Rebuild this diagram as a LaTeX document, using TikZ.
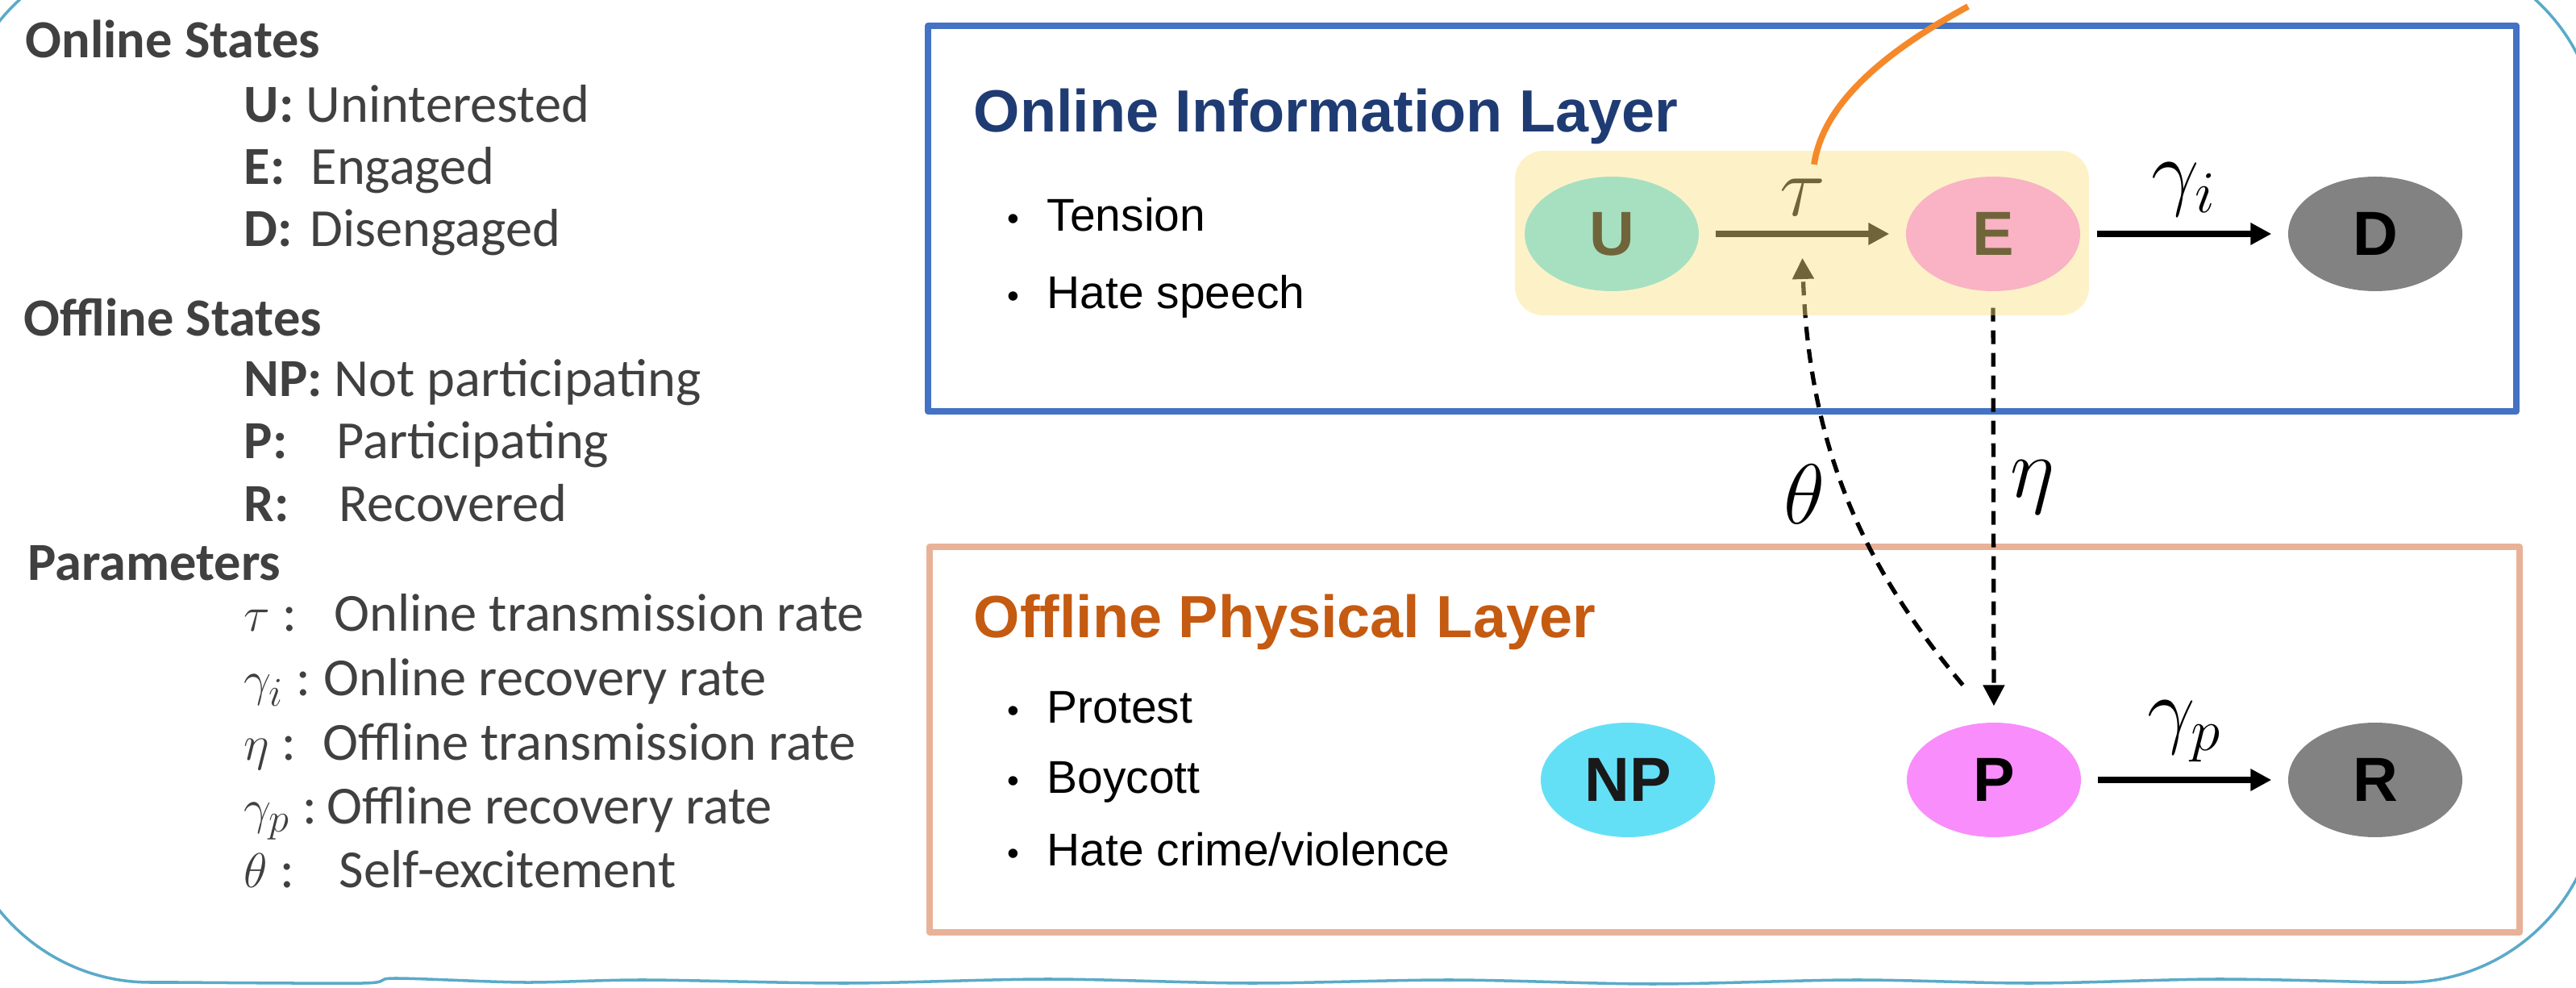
\documentclass[tikz,border=0pt]{standalone}
\usepackage{fontspec}
\newfontfamily\carlito{Carlito}
\newfontfamily\arialf{Liberation Sans}
\usetikzlibrary{shapes.geometric,arrows.meta,calc}

\definecolor{framecol}{HTML}{5AAAC8}
\definecolor{onlinecol}{HTML}{4472C4}
\definecolor{offlinecol}{HTML}{E8B298}
\definecolor{onlinetitle}{HTML}{1F3B73}
\definecolor{offlinetitle}{HTML}{C55A11}
\definecolor{legendgray}{HTML}{404040}
\definecolor{npcyan}{HTML}{64E0F6}
\definecolor{pmagenta}{HTML}{F98DFC}
\definecolor{stategray}{HTML}{828282}
\definecolor{highlight}{HTML}{FAE282}
\definecolor{calloutorange}{HTML}{F5892A}

% small bullet in front of the layer items
\newcommand{\itm}[1]{\makebox[0.49cm][l]{\raisebox{0.5pt}{\fontsize{12}{12}\selectfont\textbullet}}#1}

\begin{document}
\begin{tikzpicture}[line join=round, >={Triangle[length=2.6mm,width=2.6mm]},
	state/.style={ellipse, minimum width=2.16cm, minimum height=1.42cm, inner sep=0pt, font=\arialf\bfseries\fontsize{22}{22}\selectfont},
	rate/.style={font=\fontsize{20.74}{24}\selectfont, scale=1.45, transform shape},
	flow/.style={->, line width=2pt, shorten <=2mm, shorten >=2mm},
	couple/.style={->, line width=1.5pt, dash pattern=on 1.7mm off 1.1mm, shorten <=2mm, shorten >=2mm},
	layer/.style={line width=0.8mm},
	head/.style={anchor=base west, inner sep=0pt, font=\arialf\bfseries\fontsize{21}{25}\selectfont},
	item/.style={anchor=base west, inner sep=0pt, font=\arialf\fontsize{16.2}{20}\selectfont},
	legend/.style={anchor=base west, inner sep=0pt, text=legendgray, font=\carlito\fontsize{18.9}{22}\selectfont}]
	\useasboundingbox (0,0) rectangle (31.95,-12.25);
	\clip (0,0) rectangle (31.95,-12.25);
	
	% outer frame, slightly wavy along the bottom
	\draw[framecol, line width=1pt, rounded corners=2.4cm] (2.2,-12.18) -| (-0.54,0.63) -| (32.23,-12.18) -- (29.5,-12.18);
	\draw[framecol, line width=1pt] plot[smooth] coordinates {(29.5,-12.18) (27.5,-12.14) (25.2,-12.19) (23.0,-12.15) (20.5,-12.20) (18.0,-12.15) (15.5,-12.19) (13.0,-12.14) (10.5,-12.19) (8.0,-12.15) (6.5,-12.18) (4.9,-12.13) (4.5,-12.19) (2.2,-12.18)};
	
	% legend on the left
	\node[legend, font=\carlito\bfseries\fontsize{18.9}{22}\selectfont] (on) at (0.31,-0.72) {Online States};
	\node[legend, font=\carlito\bfseries\fontsize{18.9}{22}\selectfont] (off) at (0.29,-4.17) {Offline States};
	\node[legend, font=\carlito\bfseries\fontsize{18.9}{22}\selectfont] (par) at (0.34,-7.20) {Parameters};
	\foreach \y/\k/\x/\v [count=\i] in {1.52/U:/3.79/Uninterested, 2.29/E:/3.85/Engaged, 3.06/D:/3.84/Disengaged, 4.92/NP:/4.14/Not participating, 5.69/P:/4.17/Participating, 6.47/R:/4.20/Recovered}{
		\node[legend] (k\i) at (3.02,-\y) {\textbf{\k}};
		\node[legend] (v\i) at (\x,-\y) {\v};
	}
	\foreach \y/\k/\x/\v [count=\i] in {7.83/\tau/4.14/Online transmission rate, 8.63/\gamma_i/4.01/Online recovery rate, 9.43/\eta/4.00/Offline transmission rate, 10.22/\gamma_p/4.05/Offline recovery rate, 11.01/\theta/4.20/Self-excitement}{
		\node[legend] (p\i) at (3.02,-\y) {$\k$ :};
		\node[legend] (q\i) at (\x,-\y) {\v};
	}
	
	% the two layers
	\draw[onlinecol, layer] (11.51,-0.32) rectangle (31.21,-5.10);
	\draw[offlinecol, layer] (11.53,-6.78) rectangle (31.25,-11.56);
	\node[head, text=onlinetitle] (onl) at (12.07,-1.64) {Online Information Layer};
	\node[head, text=offlinetitle] (offl) at (12.07,-7.91) {Offline Physical Layer};
	\foreach \y/\t [count=\i] in {2.87/Tension, 3.83/Hate speech}
	\node[item] (a\i) at (12.49,-\y) {\itm{\t}};
	\foreach \y/\t [count=\i] in {8.97/Protest, 9.84/Boycott, 10.74/{Hate crime/violence}}
	\node[item] (b\i) at (12.49,-\y) {\itm{\t}};
	
	% states
	\path 
	(19.99,-2.90) node[state, fill=npcyan] (U) {U}
	(24.72,-2.90) node[state, fill=pmagenta] (E) {E}
	(29.46,-2.90) node[state, fill=stategray] (D) {D}
	(20.19,-9.67) node[state, fill=npcyan, text=black!90] (NP) {NP}
	(24.73,-9.67) node[state, fill=pmagenta] (P) {P}
	(29.46,-9.67) node[state, fill=stategray] (R) {R}
	;
	\path ($(U)!.5!(E)$) ++(0,-0.3) coordinate (T);
	
	\draw[flow] (U) -- node[rate, above] (tau) {$\tau$} (E);
	\draw[flow] (E) -- node[rate, above] (gi) {$\gamma_i$} (D);
	\draw[flow] (P) -- node[rate, above] (gp) {$\gamma_p$} (R);
	
	\draw[couple] (E.south) -- node[rate, right, pos=.455] (eta) {$\eta$} (P.north);
	\draw[couple, shorten <=6mm, shorten >=0pt] (P.north) to[out=130, in=-88] node[rate, left, pos=.53, xshift=-0.5mm] (theta) {$\theta$} (T);
	
	% yellow highlight over U and E
	\fill[highlight, fill opacity=.45, rounded corners=3.5mm] (18.79,-1.87) rectangle (25.91,-3.91);
	
	\path (22.50,-2.04) coordinate (C1) (24.41,-0.08) coordinate (C2);
	\draw[calloutorange, line width=2.2pt] (C1) .. controls (22.62,-1.20) and (23.55,-0.55) .. (C2);
\end{tikzpicture}
\end{document}
